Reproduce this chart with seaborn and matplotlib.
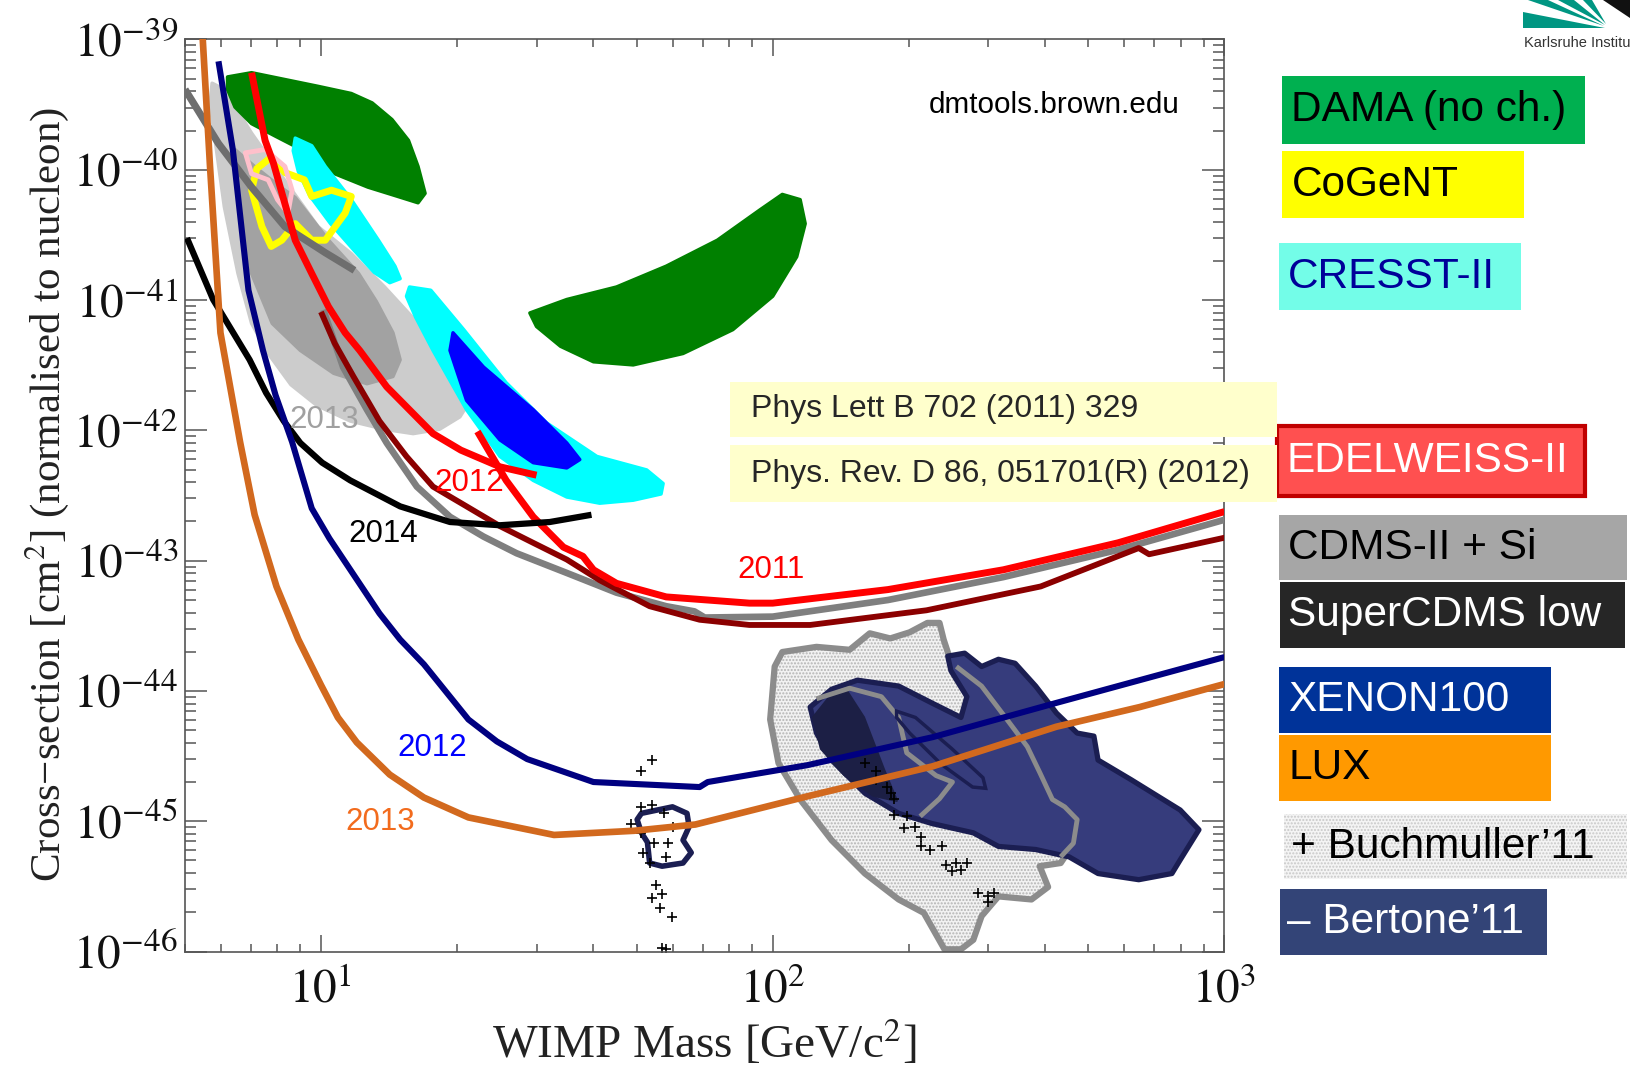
import numpy as np
import matplotlib
matplotlib.use("Agg")
import matplotlib.pyplot as plt
from matplotlib.patches import Polygon, Rectangle
from matplotlib.ticker import FixedLocator, NullFormatter, FuncFormatter
import seaborn as sns

# ---------------- exclusion limits (mass in GeV, cross-section in cm^2) ----------------
lux_mass = [5.45, 5.68, 5.99, 6.62, 7.13, 7.97, 8.91, 10.0, 10.9, 12.0, 14.2, 16.9, 21.2, 32.8,
            49.3, 67.4, 119, 226, 424, 649, 1000]
lux_sigma = [1.3e-39, 1.06e-40, 5.61e-42, 8.15e-43, 2.25e-43, 6.34e-44, 2.48e-44, 1.11e-44,
             6.26e-45, 4.03e-45, 2.28e-45, 1.52e-45, 1.07e-45, 7.85e-46, 8.45e-46, 9.44e-46,
             1.55e-45, 2.64e-45, 5.31e-45, 7.52e-45, 1.13e-44]

xenon_mass = [5.93, 6.38, 6.91, 7.44, 7.93, 8.63, 9.54, 10.44, 11.49, 13.47, 14.97, 16.9, 21.2,
              24.5, 28.6, 40.1, 68.9, 71.8, 119, 226, 424, 649, 1000]
xenon_sigma = [6.8e-40, 1.43e-40, 1.19e-41, 4.11e-42, 1.87e-42, 8.15e-43, 2.52e-43, 1.48e-43,
               9.0e-44, 3.94e-44, 2.48e-44, 1.6e-44, 6.04e-45, 4.1e-45, 3.0e-45, 2.0e-45,
               1.83e-45, 2.0e-45, 2.69e-45, 4.42e-45, 8.09e-45, 1.21e-44, 1.82e-44]

supercdms_mass = [5.05, 5.77, 6.95, 7.56, 8.27, 9.0, 10.06, 11.61, 14.97, 19.3, 24.9, 32.1, 39.7]
supercdms_sigma = [2.99e-41, 1.01e-41, 3.48e-42, 1.94e-42, 1.18e-42, 8.0e-43, 5.65e-43,
                   4.13e-43, 2.61e-43, 1.98e-43, 1.87e-43, 1.98e-43, 2.25e-43]

edw2012_mass = [7.02, 7.52, 7.85, 8.77, 9.54, 10.39, 11.31, 12.18, 13.98, 17.7, 20.4, 24.9, 30.0]
edw2012_sigma = [5.56e-40, 1.68e-40, 1.12e-40, 2.88e-41, 1.6e-41, 8.89e-42, 5.61e-42, 4.11e-42,
                 2.16e-42, 9.44e-43, 7.05e-43, 5.25e-43, 4.53e-43]

edw2011_mass = [22.2, 25.7, 29.5, 34.4, 38.0, 40.1, 45.1, 58.1, 88.8, 100, 180, 324, 581, 1000]
edw2011_sigma = [9.8e-43, 4.13e-43, 2.17e-43, 1.27e-43, 1.08e-43, 8.51e-44, 6.7e-44, 5.27e-44,
                 4.72e-44, 4.72e-44, 6.0e-44, 8.51e-44, 1.37e-43, 2.38e-43]

cdmsge_mass = [10.0, 10.72, 11.8, 13.47, 15.46, 17.7, 21.0, 24.9, 29.5, 35.0, 41.4, 53.4, 68.9,
               88.8, 121, 219, 392, 646, 681, 1000]
cdmsge_sigma = [8.11e-42, 4.67e-42, 2.59e-42, 1.18e-42, 6.31e-43, 3.7e-43, 2.61e-43, 1.84e-43,
                1.37e-43, 1.02e-43, 7.08e-44, 4.47e-44, 3.52e-44, 3.21e-44, 3.21e-44, 4.16e-44,
                6.34e-44, 1.25e-43, 1.12e-43, 1.5e-43]

cdms_mass = [10.12, 11.19, 12.64, 13.98, 16.3, 19.3, 22.9, 27.1, 35.0, 45.1, 58.1, 67.1, 70.7,
             100, 180, 324, 581, 1000]
cdms_sigma = [8.41e-42, 3.06e-42, 1.44e-42, 8.0e-43, 3.7e-43, 2.17e-43, 1.53e-43, 1.14e-43,
              8.05e-44, 5.68e-44, 4.47e-44, 4.08e-44, 3.66e-44, 3.72e-44, 4.99e-44, 7.48e-44,
              1.21e-43, 2.06e-43]

cdmssi_mass = [5.0, 5.93, 7.02, 8.32, 10.22, 11.86]
cdmssi_sigma = [4.14e-40, 1.59e-40, 7.36e-41, 3.66e-41, 2.31e-41, 1.69e-41]

# ---------------- signal regions ----------------
cdms_si_outer_mass = [5.74, 6.11, 7.02, 8.36, 9.85, 11.67, 13.83, 16.4, 18.1, 20.6, 21.4, 20.3,
                      18.3, 16.0, 13.8, 11.6, 9.8, 8.58, 7.64, 7.02, 6.55, 6.11, 5.83, 5.68]
cdms_si_outer_sigma = [4.62e-40, 4.14e-40, 1.91e-40, 8.07e-41, 3.66e-41, 2.27e-41, 1.26e-41,
                       6.62e-42, 4.42e-42, 2.46e-42, 1.7e-42, 1.27e-42, 1.02e-42, 9.44e-43,
                       1.02e-42, 1.18e-42, 1.55e-42, 2.24e-42, 3.89e-42, 6.62e-42, 1.6e-41,
                       5.19e-41, 1.68e-40, 3.2e-40]
cdms_si_inner_mass = [6.45, 7.13, 8.14, 8.77, 10.39, 12.11, 13.26, 14.43, 14.97, 14.43, 12.64,
                      10.67, 9.0, 7.8, 7.02, 6.66, 6.55]
cdms_si_inner_sigma = [1.43e-40, 1.06e-40, 7.36e-41, 6.12e-41, 2.88e-41, 1.6e-41, 9.75e-42,
                       5.61e-42, 3.48e-42, 2.59e-42, 2.28e-42, 2.74e-42, 4.11e-42, 6.62e-42,
                       1.6e-41, 3.86e-41, 9.33e-41]

dama1_mass = [6.21, 7.02, 9.85, 11.67, 12.98, 14.36, 15.62, 16.4, 17.0, 16.4, 14.8, 12.7, 10.72,
              9.05, 7.93, 7.02, 6.45, 6.21]
dama1_sigma = [5.16e-40, 5.56e-40, 4.37e-40, 3.85e-40, 3.26e-40, 2.43e-40, 1.68e-40, 1.06e-40,
               6.59e-41, 5.58e-41, 6.24e-41, 7.36e-41, 9.33e-41, 1.43e-40, 1.81e-40, 2.26e-40,
               3.03e-40, 4.14e-40]
dama2_mass = [29.0, 35.0, 45.1, 58.1, 75.4, 93.6, 105, 115, 118, 113, 100, 81.6, 63.3, 49.1,
              40.1, 33.9, 30.0]
dama2_sigma = [7.96e-42, 1.01e-41, 1.26e-41, 1.82e-41, 2.88e-41, 4.91e-41, 6.47e-41, 5.9e-41,
               3.86e-41, 2.15e-41, 1.07e-41, 5.93e-42, 3.89e-42, 3.18e-42, 3.36e-42, 4.42e-42,
               6.27e-42]

cresst1_mass = [8.77, 9.54, 10.22, 11.67, 13.4, 14.58, 14.97, 14.2, 13.12, 11.8, 10.5, 9.44,
                8.91, 8.68]
cresst1_sigma = [1.75e-40, 1.53e-40, 1.06e-40, 5.9e-41, 2.88e-41, 1.82e-41, 1.46e-41, 1.36e-41,
                 1.63e-41, 2.44e-41, 3.86e-41, 6.35e-41, 9.68e-41, 1.4e-40]
cresst2_mass = [15.7, 17.5, 20.7, 25.7, 31.6, 40.8, 52.6, 57.2, 56.6, 49.1, 41.4, 35.0, 29.5,
                24.9, 21.0, 17.7, 16.2, 15.46]
cresst2_sigma = [1.26e-41, 1.19e-41, 5.93e-42, 2.32e-42, 1.14e-42, 6.31e-43, 4.97e-43, 3.91e-43,
                 3.25e-43, 2.91e-43, 2.76e-43, 3.08e-43, 4.13e-43, 6.31e-43, 1.44e-42, 4.11e-42,
                 7.39e-42, 1.07e-41]
cresst2_core_mass = [19.6, 22.9, 29.5, 35.0, 37.4, 35.0, 29.5, 24.9, 21.0, 19.3]
cresst2_core_sigma = [5.61e-42, 3.06e-42, 1.44e-42, 8.0e-43, 5.97e-43, 5.15e-43, 5.65e-43,
                      8.45e-43, 1.7e-42, 4.11e-42]

cogent_mass = [7.21, 7.76, 8.32, 9.19, 9.54, 10.55, 11.67, 11.31, 10.22, 9.54, 8.77, 8.19,
               7.76, 7.4, 7.02]
cogent_sigma = [1.02e-40, 1.25e-40, 9.51e-41, 8.37e-41, 6.24e-41, 6.97e-41, 6.24e-41, 4.65e-41,
                2.88e-41, 2.88e-41, 3.86e-41, 2.88e-41, 2.58e-41, 3.66e-41, 6.97e-41]
cogent_mod_mass = [6.8, 7.52, 8.32, 8.63, 8.45, 8.01, 7.64, 7.02]
cogent_mod_sigma = [1.35e-40, 1.43e-40, 1.06e-40, 6.97e-41, 4.65e-41, 5.9e-41, 8.37e-41, 9.33e-41]

# ---------------- CMSSM fits ----------------
buch_mass = [101, 105, 125, 148, 164, 182, 201, 220, 234, 239, 250, 316, 390, 458, 483, 434,
             390, 407, 374, 316, 290, 278, 261, 240, 216, 190, 160, 135, 115, 103, 98.7]
buch_sigma = [1.54e-44, 1.99e-44, 2.18e-44, 2.07e-44, 2.77e-44, 2.53e-44, 2.82e-44, 3.33e-44,
              3.33e-44, 2.48e-44, 1.54e-44, 1.09e-44, 5.21e-45, 1.73e-45, 8.3e-46, 4.78e-46,
              4.52e-46, 3.13e-46, 2.51e-46, 2.65e-46, 1.87e-46, 1.23e-46, 1.04e-46, 1.04e-46,
              1.98e-46, 2.51e-46, 3.97e-46, 7.16e-46, 1.47e-45, 2.79e-45, 6.04e-45]
buch_inner1_mass = [125, 148, 174, 190, 198, 230, 250, 234, 212]
buch_inner1_sigma = [8.71e-45, 1.05e-44, 9.04e-45, 6.26e-45, 3.35e-45, 2.24e-45, 2.0e-45,
                     1.49e-45, 1.09e-45]
buch_inner2_mass = [255, 290, 330, 366, 390, 416, 443, 472, 463, 434]
buch_inner2_sigma = [1.54e-44, 1.09e-44, 6.04e-45, 3.74e-45, 2.37e-45, 1.47e-45, 1.29e-45,
                     1.03e-45, 6.78e-46, 5.33e-46]

bert_mass = [121, 135, 154, 190, 225, 261, 269, 248, 244, 266, 290, 316, 344, 382, 425, 472,
             514, 525, 622, 798, 878, 798, 765, 646, 525, 453, 382, 316, 278, 225, 190, 160,
             135, 125]
bert_sigma = [7.52e-45, 1.03e-44, 1.21e-44, 1.09e-44, 8.09e-45, 6.26e-45, 9.04e-45, 1.43e-44,
              1.85e-44, 1.95e-44, 1.54e-44, 1.75e-44, 1.63e-44, 1.09e-44, 6.75e-45, 4.75e-45,
              4.5e-45, 2.95e-45, 2.08e-45, 1.22e-45, 8.61e-46, 5.05e-46, 3.97e-46, 3.56e-46,
              3.97e-46, 5.33e-46, 6.07e-46, 6.41e-46, 8.15e-46, 9.61e-46, 1.15e-45, 1.64e-45,
              2.95e-45, 4.75e-45]
bert_core_mass = [123, 135, 146, 159, 176, 188, 167, 144, 128]
bert_core_sigma = [6.26e-45, 9.38e-45, 9.91e-45, 6.26e-45, 2.5e-45, 1.44e-45, 1.58e-45,
                   2.28e-45, 3.61e-45]
bert_loop_mass = [188, 207, 249, 292, 296, 277, 236, 201, 188]
bert_loop_sigma = [7.0e-45, 6.26e-45, 3.61e-45, 2.16e-45, 1.79e-45, 1.83e-45, 2.74e-45,
                   4.75e-45, 6.26e-45]
bert_small_mass = [50.1, 51.2, 60.0, 64.6, 65.3, 63.3, 66.0, 63.3, 56.9, 53.4, 52.8, 51.2]
bert_small_sigma = [1.03e-45, 1.15e-45, 1.29e-45, 1.15e-45, 9.1e-46, 7.16e-46, 5.74e-46,
                    4.78e-46, 4.52e-46, 4.78e-46, 6.9e-46, 8.15e-46]

fit_mass = [54.0, 51.2, 51.2, 54.0, 57.5, 48.5, 51.2, 54.6, 58.7, 60.0, 51.7, 58.1, 53.4, 55.1,
            54.0, 56.9, 56.3, 59.7, 56.9, 58.1,
            160, 169, 169, 179, 183, 186, 186, 198, 207, 195, 213, 213, 223, 237, 242, 255, 250,
            261, 269, 284, 300, 309, 300]
fit_sigma = [2.94e-45, 2.41e-45, 1.29e-45, 1.34e-45, 1.15e-45, 9.61e-46, 8.15e-46, 6.78e-46,
             6.78e-46, 9.1e-46, 5.74e-46, 5.33e-46, 4.78e-46, 3.25e-46, 2.56e-46, 2.75e-46,
             2.17e-46, 1.84e-46, 1.06e-46, 1.04e-46,
             2.79e-45, 2.41e-45, 2.08e-45, 1.83e-45, 1.64e-45, 1.47e-45, 1.11e-45, 1.09e-45,
             9.1e-46, 8.93e-46, 7.57e-46, 6.41e-46, 6.07e-46, 6.41e-46, 4.6e-46, 4.78e-46,
             4.12e-46, 4.2e-46, 4.78e-46, 2.81e-46, 2.65e-46, 2.81e-46, 2.42e-46]

# ---------------- labels ----------------
year_labels = ["2013", "2012", "2014", "2011", "2012", "2013"]
year_colors = ["#a0a0a0", "#ff0000", "#000000", "#ff0000", "#0000ff", "#f26b1d"]
year_pos = [(0.134, 0.583), (0.273, 0.514), (0.191, 0.458), (0.564, 0.4185), (0.238, 0.2235),
            (0.188, 0.1425)]

legend_labels = ["DAMA (no ch.)", "CoGeNT", "CRESST-II", "EDELWEISS-II", "CDMS-II + Si",
                 "SuperCDMS low", "XENON100", "LUX", "+ Buchmuller\u201911", "\u2013 Bertone\u201911"]
legend_faces = ["#00b050", "#ffff00", "#73fde8", "#ff5050", "#a6a6a6", "#262626", "#003399",
                "#ff9900", "#f4f4f4", "#334477"]
legend_text_colors = ["black", "black", "#000099", "white", "black", "white", "white", "black",
                      "black", "white"]
references = ["Phys Lett B 702 (2011) 329", "Phys. Rev. D 86, 051701(R) (2012)"]

# ---------------- figure ----------------
sns.set_theme(style="ticks")
plt.rcParams["font.family"] = ["Liberation Sans", "DejaVu Sans"]
plt.rcParams["mathtext.fontset"] = "stix"
plt.rcParams["hatch.linewidth"] = 1.0

fig = plt.figure(figsize=(16.3, 10.67), dpi=100)
fig.patch.set_facecolor("white")
ax = fig.add_axes([0.1135, 0.1082, 0.6377, 0.8548])
ax.set_xscale("log")
ax.set_yscale("log")
ax.set_xlim(5, 1000)
ax.set_ylim(1e-46, 1e-39)
ax.set_facecolor("white")


def region(m, s, z, **kw):
    ax.add_patch(Polygon(np.column_stack([m, s]), closed=True, zorder=z, **kw))


def blob(m, s, z, color):
    # filled area with a same-coloured rounded rim
    region(m, s, z, facecolor=color, edgecolor=color, linewidth=2.5, joinstyle="round")


# signal regions
blob(cdms_si_outer_mass, cdms_si_outer_sigma, 1, "#cccccc")
blob(cdms_si_inner_mass, cdms_si_inner_sigma, 1.1, "#a2a2a2")
blob(dama1_mass, dama1_sigma, 1.2, "#008000")
blob(dama2_mass, dama2_sigma, 1.2, "#008000")
blob(cresst1_mass, cresst1_sigma, 1.3, "#00ffff")
blob(cresst2_mass, cresst2_sigma, 1.3, "#00ffff")
blob(cresst2_core_mass, cresst2_core_sigma, 1.4, "#0000ff")
region(cogent_mass, cogent_sigma, 1.5, fill=False, edgecolor="#ffff00", linewidth=5,
       joinstyle="round")
region(cogent_mod_mass, cogent_mod_sigma, 1.6, fill=False, edgecolor="#ffc0cb", linewidth=3.5,
       joinstyle="round")

# CMSSM fit regions
region(buch_mass, buch_sigma, 1.0, facecolor="#f2f2f2", edgecolor="#b4b4b4", hatch=".....",
       linewidth=0)
region(buch_mass, buch_sigma, 1.05, fill=False, edgecolor="#8c8c8c", linewidth=4.5,
       joinstyle="round")
region(bert_mass, bert_sigma, 2.0, facecolor="#363c7c", edgecolor="#1b1e52", linewidth=3.8,
       joinstyle="round")
region(bert_core_mass, bert_core_sigma, 2.05, facecolor="#1c1f45", edgecolor="#1c1f45",
       linewidth=2, joinstyle="round")
region(bert_loop_mass, bert_loop_sigma, 2.2, fill=False, edgecolor="#1b1e52", linewidth=2.5)
region(bert_small_mass, bert_small_sigma, 2.2, fill=False, edgecolor="#1b1e52", linewidth=4,
       joinstyle="round")
sns.lineplot(x=buch_inner1_mass, y=buch_inner1_sigma, sort=False, estimator=None,
             color="#8c8c8c", linewidth=3.5, ax=ax, zorder=2.1)
sns.lineplot(x=buch_inner2_mass, y=buch_inner2_sigma, sort=False, estimator=None,
             color="#8c8c8c", linewidth=3.5, ax=ax, zorder=2.1)
sns.scatterplot(x=fit_mass, y=fit_sigma, marker="+", s=60, color="black", linewidth=1.2,
                ax=ax, zorder=2.5)

# exclusion curves
curves = [
    (cdmssi_mass, cdmssi_sigma, "#6e6e6e", 5.2),
    (cdms_mass, cdms_sigma, "#7f7f7f", 4.8),
    (cdmsge_mass, cdmsge_sigma, "#8b0000", 4.2),
    (edw2012_mass, edw2012_sigma, "#ff0000", 5.0),
    (edw2011_mass, edw2011_sigma, "#ff0000", 5.0),
    (supercdms_mass, supercdms_sigma, "#000000", 4.5),
    (xenon_mass, xenon_sigma, "#000080", 4.4),
    (lux_mass, lux_sigma, "#d2691e", 4.8),
]
for i, (m, s, c, lw) in enumerate(curves):
    sns.lineplot(x=m, y=s, sort=False, estimator=None, color=c, linewidth=lw, ax=ax,
                 zorder=3 + 0.1 * i)
for ln in ax.get_lines():
    ln.set_solid_joinstyle("round")
    ln.set_solid_capstyle("butt")

for txt, col, (fx, fy) in zip(year_labels, year_colors, year_pos):
    ax.text(fx, fy, txt, transform=ax.transAxes, color=col, fontsize=22.5,
            ha="center", va="center", zorder=5)
ax.text(0.836, 0.928, "dmtools.brown.edu", transform=ax.transAxes, fontsize=21.3,
        ha="center", va="center", color="black", zorder=5)

# axes styling
for sp in ax.spines.values():
    sp.set_color("#555555")
    sp.set_linewidth(1.2)
ax.xaxis.set_major_locator(FixedLocator([10, 100, 1000]))
ax.xaxis.set_minor_locator(FixedLocator(
    [k * 10.0 ** d for d in range(0, 3) for k in range(2, 10) if 5 <= k * 10.0 ** d <= 1000]))
ax.yaxis.set_major_locator(FixedLocator([10.0 ** e for e in range(-46, -38)]))
ax.yaxis.set_minor_locator(FixedLocator(
    [k * 10.0 ** e for e in range(-46, -39) for k in range(2, 10)]))
ax.xaxis.set_minor_formatter(NullFormatter())
ax.yaxis.set_minor_formatter(NullFormatter())
ax.xaxis.set_major_formatter(FuncFormatter(lambda v, p: r"$10^{%d}$" % round(np.log10(v))))
ax.yaxis.set_major_formatter(FuncFormatter(lambda v, p: r"$10^{%d}$" % round(np.log10(v))))
ax.tick_params(axis="both", which="both", direction="in", top=True, right=True,
               color="#555555", width=1.1, labelcolor="#111111")
ax.tick_params(axis="x", which="major", length=12, pad=12, labelsize=34)
ax.tick_params(axis="x", which="minor", length=6)
ax.tick_params(axis="y", which="major", length=16, pad=5, labelsize=34)
ax.tick_params(axis="y", which="minor", length=8)
ax.grid(False)

fig.text(0.029, 0.537, "Cross\u2212section [cm$^2$] (normalised to nucleon)", rotation=90,
         ha="center", va="center", fontsize=31, family="Liberation Serif", color="#222222")
fig.text(0.4324, 0.0224, "WIMP Mass [GeV/c$^2$]", ha="center", va="center", fontsize=34,
         family="Liberation Serif", color="#222222")

# reference boxes
for j, ref in enumerate(references):
    y0 = [0.5906, 0.5292][j]
    h = [0.0517, 0.0536][j]
    fig.add_artist(Rectangle((0.4477, y0), 0.3355, h, transform=fig.transFigure,
                             facecolor="#ffffcc", edgecolor="none", zorder=6))
    fig.text(0.4605, y0 + h / 2, ref, fontsize=23, ha="left", va="center", zorder=7)

# experiment key on the right
key_geom = [
    (0.7864, 0.8655, 0.1862, 0.0634, 0.7921),
    (0.7864, 0.7953, 0.1486, 0.0634, 0.7927),
    (0.7844, 0.7096, 0.1486, 0.0624, 0.7902),
    (0.7832, 0.5351, 0.1894, 0.0653, 0.7895),
    (0.7844, 0.4561, 0.2136, 0.0614, 0.7902),
    (0.7851, 0.3928, 0.2117, 0.0614, 0.7902),
    (0.7844, 0.3129, 0.1671, 0.0624, 0.7902),
    (0.7844, 0.2495, 0.1671, 0.0614, 0.7902),
    (0.7876, 0.1764, 0.2105, 0.0604, 0.7921),
    (0.7851, 0.1053, 0.1639, 0.0614, 0.7895),
]
for lab, fc, tc, (x0, y0, w, h, tx) in zip(legend_labels, legend_faces, legend_text_colors,
                                           key_geom):
    if lab.startswith("+"):
        fig.add_artist(Rectangle((x0, y0), w, h, transform=fig.transFigure, facecolor=fc,
                                 edgecolor="#c8c8c8", hatch=".....", linewidth=0))
    elif lab.startswith("EDEL"):
        fig.add_artist(Rectangle((x0, y0), w, h, transform=fig.transFigure, facecolor=fc,
                                 edgecolor="#c00000", linewidth=3))
    else:
        fig.add_artist(Rectangle((x0, y0), w, h, transform=fig.transFigure, facecolor=fc,
                                 edgecolor="none"))
    fig.text(tx, y0 + h / 2, lab, fontsize=30.5, color=tc, ha="left", va="center")

# institute logo in the corner
W, H = 1630.0, 1067.0
teal = "#009682"
for tri in [[(1523, 1067 - 12), (1523, 1067 - 28), (1605, 1067 - 28)],
            [(1528, 1067), (1548, 1067), (1604, 1067 - 26)],
            [(1558, 1067), (1574, 1067), (1605, 1067 - 25)],
            [(1583, 1067), (1592, 1067), (1606, 1067 - 24)]]:
    fig.add_artist(Polygon([(x / W, y / H) for x, y in tri], closed=True,
                           transform=fig.transFigure, facecolor=teal, edgecolor="none"))
fig.add_artist(Polygon([(1603 / W, 1.0), (1630 / W, 1.0), (1630 / W, (1067 - 18) / H)],
                       closed=True, transform=fig.transFigure, facecolor="#111111",
                       edgecolor="none"))
fig.text(1.0, 1 - 43 / H, "Karlsruhe Institu", fontsize=10.5,
         color="#333333", ha="right", va="center")

fig.savefig("out.png", dpi=100, facecolor="white")
